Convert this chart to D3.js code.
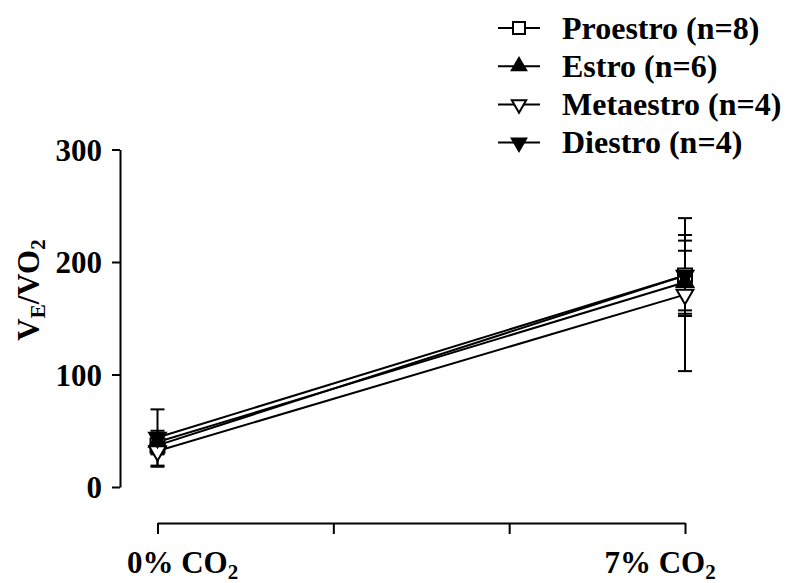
<!DOCTYPE html>
<html>
<head>
<meta charset="utf-8">
<script src="https://cdn.jsdelivr.net/npm/d3@7"></script>
<style>
  body { margin: 0; background: #fff; }
</style>
</head>
<body>
<script>
// conditions on the x axis
const conditions = ["0% CO2", "7% CO2"];
const xTickPositions = [0, 1 / 3, 2 / 3, 1];

// groups (legend order)
const groups = ["Proestro (n=8)", "Estro (n=6)", "Metaestro (n=4)", "Diestro (n=4)"];
const symbols = ["squareOpen", "triUp", "triDownOpen", "triDown"];

// mean and SEM per group, [0% CO2, 7% CO2]
const means = [
  [37, 188],
  [40, 182],
  [32, 171],
  [44, 188]
];
const sems = [
  [8, 36],
  [10, 28],
  [14, 68],
  [25, 31]
];

const yTicks = [0, 100, 200, 300];

const FONT = '"Liberation Serif", "Times New Roman", serif';
const W = 786, H = 583;
const svg = d3.select("body").append("svg")
  .attr("width", W)
  .attr("height", H);

const x = d3.scaleLinear().domain([0, 1]).range([157.5, 685]);
const y = d3.scaleLinear().domain([0, 300]).range([487, 149.5]);

function bold(sel, size) {
  return sel.style("font-family", FONT).style("font-weight", "bold")
    .style("font-size", size + "px").attr("fill", "#000");
}

// y axis
const yAxis = svg.append("g")
  .attr("transform", "translate(120,0)")
  .call(d3.axisLeft(y).tickValues(yTicks).tickSize(8).tickPadding(10).tickSizeOuter(0));
yAxis.select(".domain").attr("stroke-width", 2);
yAxis.selectAll(".tick line").attr("stroke-width", 2);
bold(yAxis.selectAll(".tick text"), 31).attr("dy", "0.34em");

// x axis
const xAxis = svg.append("g")
  .attr("transform", "translate(0,523)")
  .call(d3.axisBottom(x).tickValues(xTickPositions).tickSize(11).tickSizeOuter(0).tickFormat(""));
xAxis.select(".domain").attr("stroke-width", 2);
xAxis.selectAll(".tick line").attr("stroke-width", 2);

// x labels with subscripts
conditions.forEach((c, i) => {
  const t = bold(svg.append("text"), 31)
    .attr("x", x(i) + (i === 0 ? 25 : -25))
    .attr("y", 573)
    .attr("text-anchor", "middle");
  t.append("tspan").text(c.slice(0, -1));
  t.append("tspan").style("font-size", "21px").attr("dy", 6).text(c.slice(-1));
});

// y label
const yl = bold(svg.append("text"), 31)
  .attr("transform", "translate(39,290) rotate(-90)")
  .attr("text-anchor", "middle");
yl.append("tspan").text("V");
yl.append("tspan").style("font-size", "21px").attr("dy", 6).text("E");
yl.append("tspan").attr("dy", -6).text("/VO");
yl.append("tspan").style("font-size", "21px").attr("dy", 6).text("2");

function markerPath(kind, size) {
  if (kind === "squareOpen") return d3.symbol(d3.symbolSquare, size)();
  return d3.symbol(d3.symbolTriangle, size * 0.62)();
}
function drawMarker(g, kind, cx, cy, size) {
  const rot = kind.startsWith("triDown") ? 180 : 0;
  const open = kind.endsWith("Open");
  g.append("path")
    .attr("d", markerPath(kind, size))
    .attr("transform", `translate(${cx},${cy}) rotate(${rot})`)
    .attr("fill", open ? "#fff" : "#000")
    .attr("stroke", "#000")
    .attr("stroke-width", 2);
}

const line = d3.line().x((d, i) => x(i)).y(d => y(d));

// lines
svg.append("g").selectAll("path")
  .data(means)
  .join("path")
  .attr("d", line)
  .attr("fill", "none")
  .attr("stroke", "#000")
  .attr("stroke-width", 2);

// error bars
const eb = svg.append("g").attr("stroke", "#000").attr("stroke-width", 2);
means.forEach((m, gi) => {
  m.forEach((v, i) => {
    const lo = v - sems[gi][i], hi = v + sems[gi][i];
    eb.append("line").attr("x1", x(i)).attr("x2", x(i)).attr("y1", y(lo)).attr("y2", y(hi));
    eb.append("line").attr("x1", x(i) - 7).attr("x2", x(i) + 7).attr("y1", y(lo)).attr("y2", y(lo));
    eb.append("line").attr("x1", x(i) - 7).attr("x2", x(i) + 7).attr("y1", y(hi)).attr("y2", y(hi));
  });
});

// markers
const mk = svg.append("g");
means.forEach((m, gi) => {
  m.forEach((v, i) => drawMarker(mk, symbols[gi], x(i), y(v), 196));
});

// legend
const lg = svg.append("g");
groups.forEach((name, gi) => {
  const ly = 28 + gi * 38.2;
  lg.append("line").attr("x1", 498).attr("x2", 540).attr("y1", ly).attr("y2", ly)
    .attr("stroke", "#000").attr("stroke-width", 2);
  drawMarker(lg, symbols[gi], 519, ly, 144);
  bold(lg.append("text"), 32)
    .attr("x", 562).attr("y", ly).attr("dy", "0.33em")
    .text(name);
});
</script>
</body>
</html>
